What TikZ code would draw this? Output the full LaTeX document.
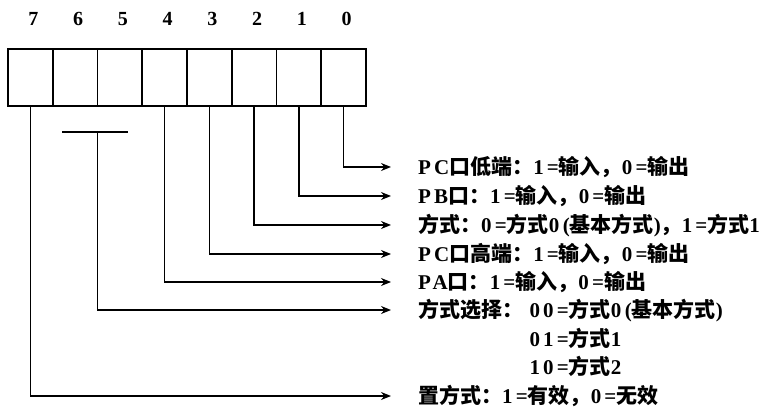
\documentclass[tikz,border=0pt]{standalone}
\usepackage{fontspec}
\setmainfont{Liberation Serif}[LetterSpace=15]
\newfontfamily\cjk{Noto Sans CJK SC}
\usetikzlibrary{arrows.meta,calc}
\newcommand{\zh}[1]{{\cjk\bfseries #1}}
\begin{document}
\begin{tikzpicture}[x=1pt,y=-1pt,
  cell/.style={draw, line width=1.9pt, minimum width=44.75pt, minimum height=57pt, inner sep=0pt, outer sep=0pt},
  bitlabel/.style={font=\fontsize{20}{20}\selectfont\bfseries, inner sep=0pt},
  desc/.style={anchor=west, inner sep=0pt, font=\fontsize{21}{24}\selectfont\bfseries, text height=19pt, text depth=4pt},
  conn/.style={line width=1.3pt, -{Stealth[length=10pt,width=8pt]}},
  plain/.style={line width=1.3pt}]
\useasboundingbox (0,0) rectangle (772,417);
\foreach \i in {0,...,7}{
  \node[cell] (c\i) at ({366-44.75*(\i+0.5)},77.5) {};
  \node[bitlabel] (l\i) at ({366-44.75*(\i+0.5)+3},19) {\i};
}
% descriptions
\node[desc] (t0) at (418,167) {PC\zh{口低端：}1=\zh{输入，}0=\zh{输出}};
\node[desc] (t1) at (418,196) {PB\zh{口：}1=\zh{输入，}0=\zh{输出}};
\node[desc] (t2) at (418,225) {\zh{方式：}0=\zh{方式}0\,(\zh{基本方式})\zh{，}1=\zh{方式}1};
\node[desc] (t3) at (418,254) {PC\zh{口高端：}1=\zh{输入，}0=\zh{输出}};
\node[desc] (t4) at (418,282) {PA\zh{口：}1=\zh{输入，}0=\zh{输出}};
\node[desc] (t5) at (418,310) {\zh{方式选择：}};
\node[desc] (t5b) at ($(t5.east)+(6,0)$) {00=\zh{方式}0\,(\zh{基本方式})};
\node[desc] (t5c) at ($(t5b.west)+(0,29)$) {01=\zh{方式}1};
\node[desc] (t5d) at ($(t5b.west)+(0,57)$) {10=\zh{方式}2};
\node[desc] (t6) at (418,396) {\zh{置方式：}1=\zh{有效，}0=\zh{无效}};
% connectors
\draw[conn] (c0.south) |- ($(t0.west)+(-27,0)$);
\draw[conn] (c1.south) |- ($(t1.west)+(-27,0)$);
\draw[conn] (c2.south) |- ($(t2.west)+(-27,0)$);
\draw[conn] (c3.south) |- ($(t3.west)+(-27,0)$);
\draw[conn] (c4.south) |- ($(t4.west)+(-27,0)$);
\coordinate (barL) at (62,132);
\coordinate (barR) at (128,132);
\draw[plain] (barL) -- (barR);
\draw[conn] (barL -| c5.south west) |- ($(t5.west)+(-27,0)$);
\draw[conn] (c7.south) |- ($(t6.west)+(-27,0)$);
\end{tikzpicture}
\end{document}
